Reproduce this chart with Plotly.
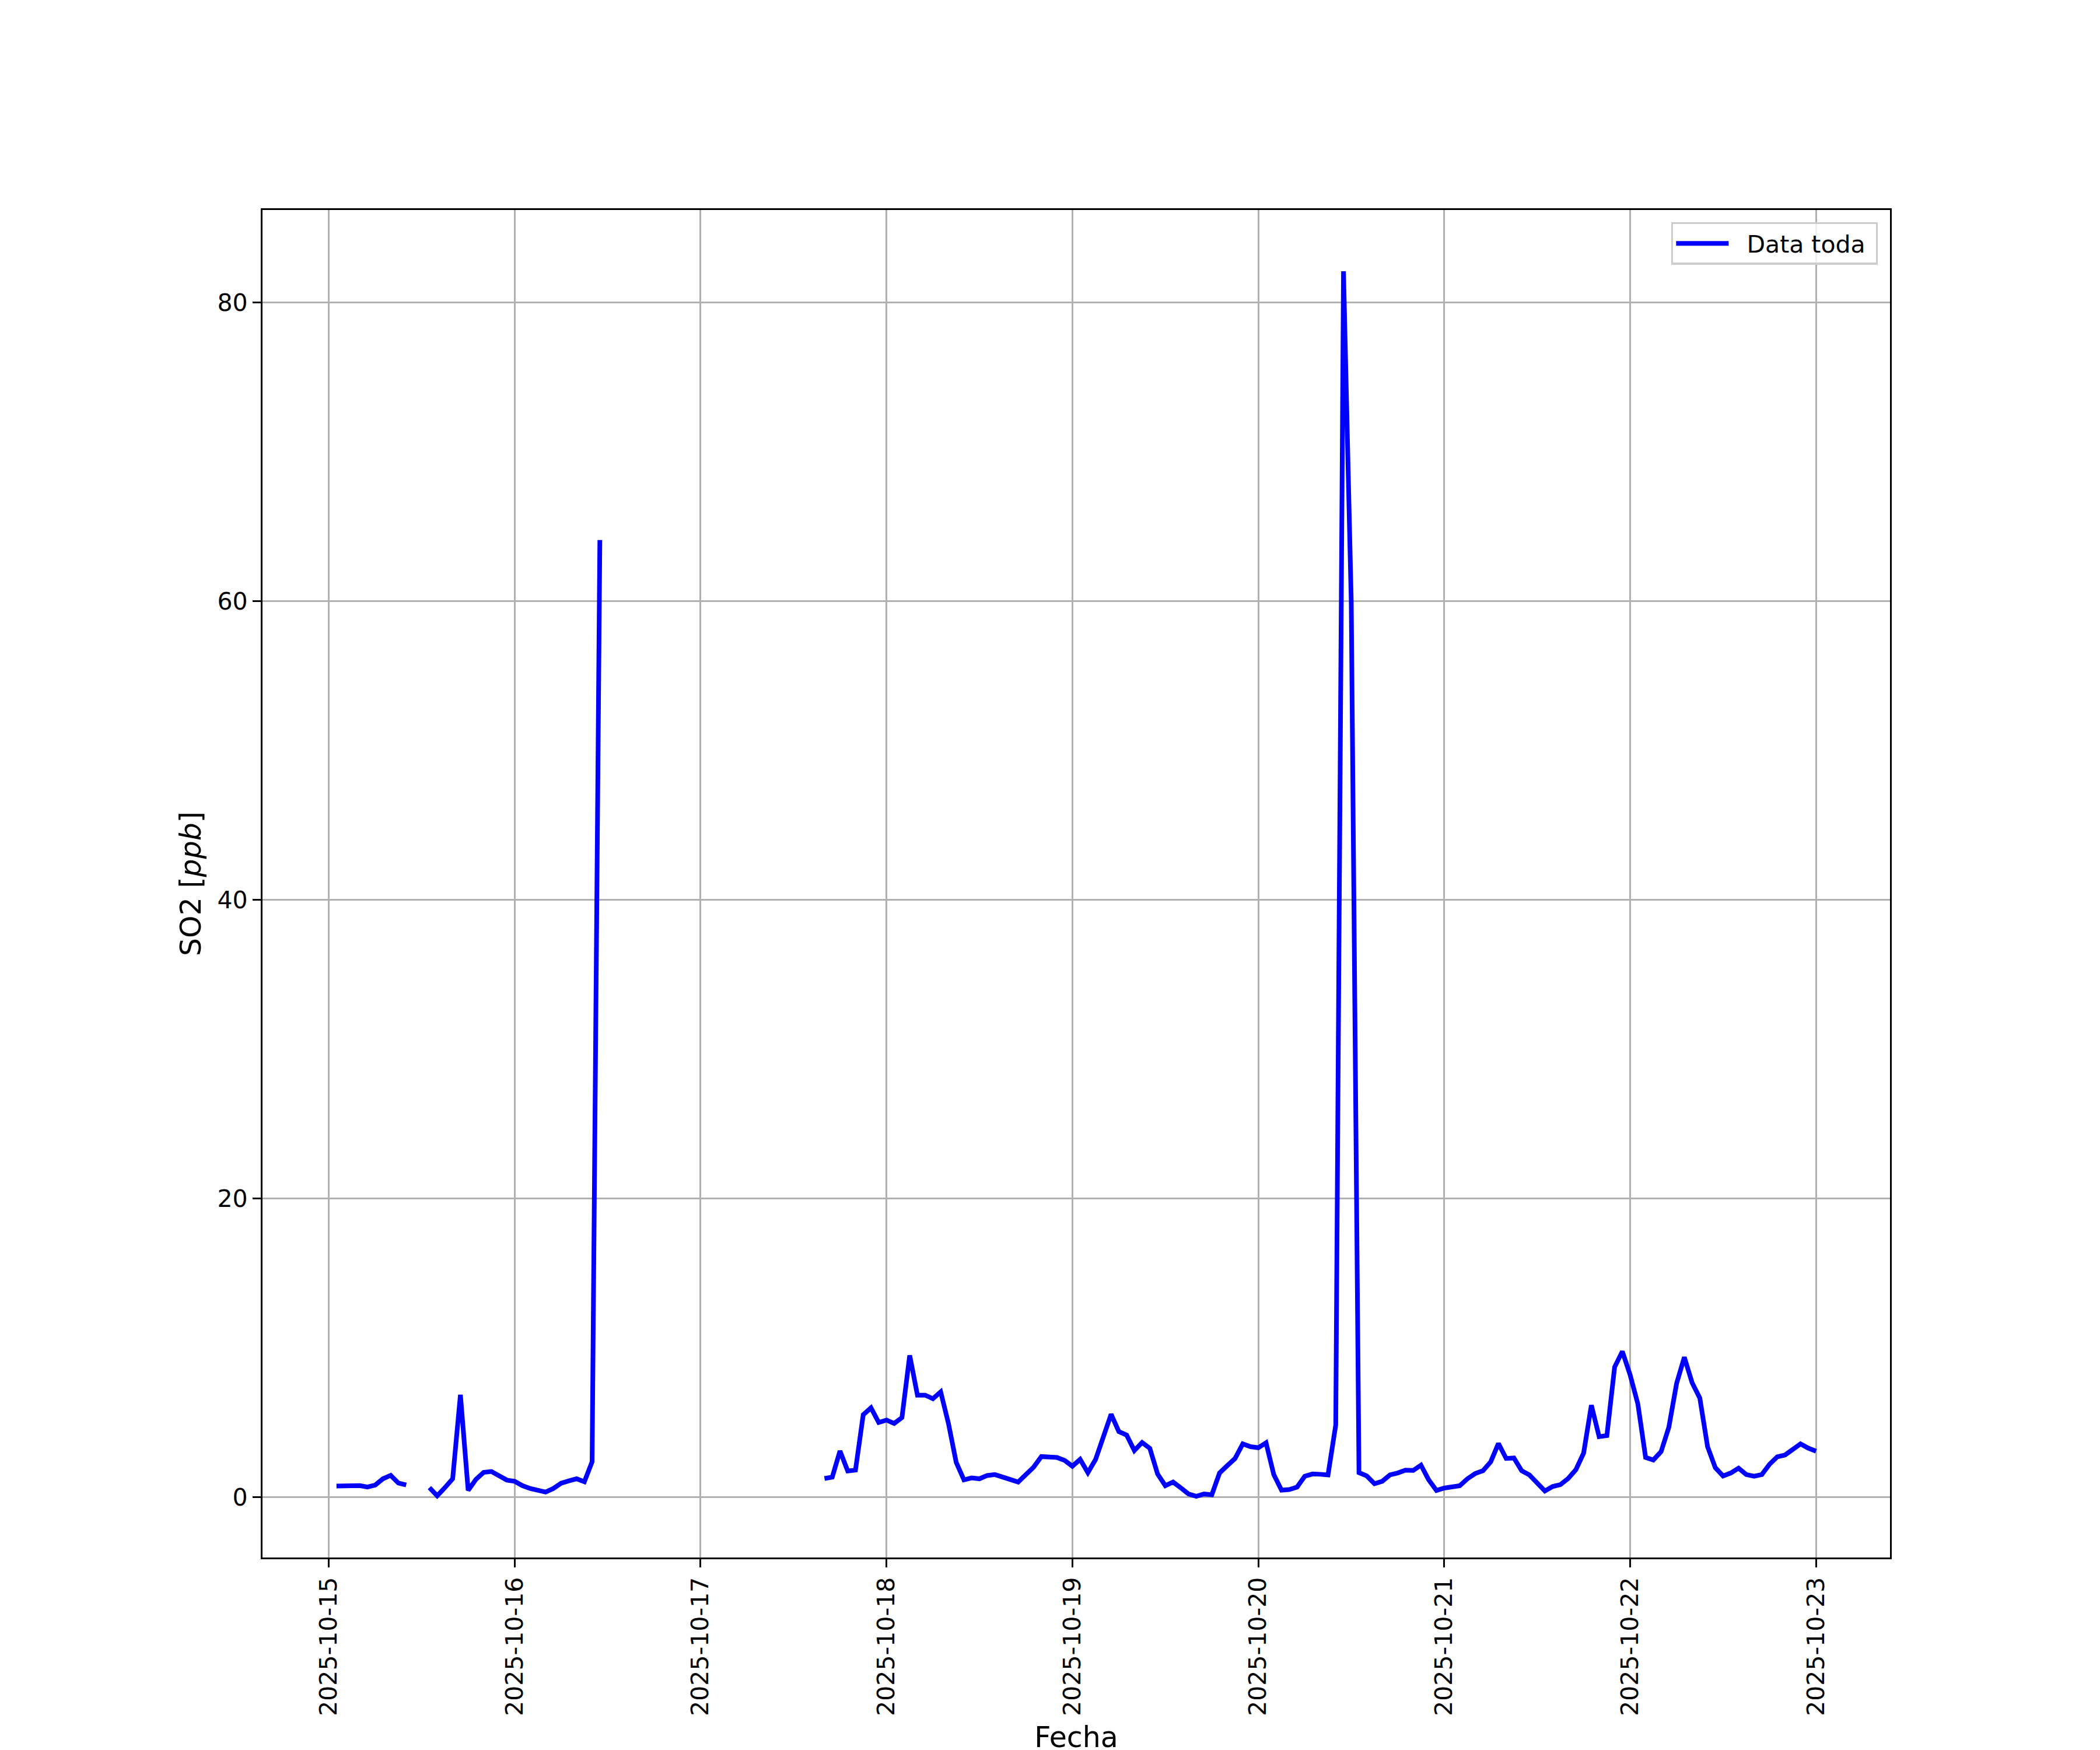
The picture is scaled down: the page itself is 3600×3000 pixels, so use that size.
import plotly.graph_objects as go
import pandas as pd

# Hourly SO2 readings in ppb, one list per day (None = missing hour)
# 15 Oct starts at 01:00, every other day starts at 00:00
so2_oct15 = [0.75, 0.74, 0.75, 0.78, 0.69, 0.82, 1.24, 1.47, 0.95, 0.83, None, None,
             0.65, 0.10, 0.65, 1.24, 6.86, 0.46, 1.20, 1.67, 1.73, 1.41, 1.15]
so2_oct16 = [1.07, 0.78, 0.59, 0.43, 0.35, 0.59, 0.94, 1.10, 1.24, 1.04, 2.38, 64.1,
             None, None, None, None, None, None, None, None, None, None, None, None]
so2_oct17 = [None, None, None, None, None, None, None, None, None, None, None, None,
             None, None, None, None, 1.26, 1.35, 3.10, 1.76, 1.82, 5.53, 5.99, 5.01]
so2_oct18 = [5.17, 4.95, 5.34, 9.50, 6.84, 6.84, 6.60, 7.06, 4.95, 2.34, 1.17, 1.30,
             1.24, 1.46, 1.52, 1.35, 1.15, 1.02, 1.52, 2.02, 2.73, 2.73, 2.67, 2.47]
so2_oct19 = [2.08, 2.54, 1.65, 2.54, 3.97, 5.56, 4.40, 4.17, 3.13, 3.67, 3.28, 1.56,
             0.78, 1.02, 0.63, 0.22, 0.07, 0.22, 0.17, 1.63, 2.12, 2.60, 3.58, 3.39]
so2_oct20 = [3.32, 3.65, 1.52, 0.48, 0.52, 0.68, 1.41, 1.56, 1.54, 1.50, 4.84, 82.1,
             60.0, 1.65, 1.43, 0.91, 1.07, 1.50, 1.63, 1.82, 1.80, 2.15, 1.17, 0.46]
so2_oct21 = [0.62, 0.70, 0.77, 1.24, 1.59, 1.78, 2.37, 3.60, 2.60, 2.63, 1.78, 1.50,
             0.98, 0.42, 0.72, 0.85, 1.26, 1.85, 2.96, 6.17, 4.06, 4.13, 8.72, 9.77]
so2_oct22 = [8.20, 6.25, 2.67, 2.50, 3.06, 4.69, 7.62, 9.38, 7.68, 6.64, 3.39, 1.98,
             1.43, 1.63, 1.95, 1.52, 1.41, 1.52, 2.21, 2.71, 2.83, 3.19, 3.58, 3.29]
so2_oct23 = [3.09]

so2 = (so2_oct15 + so2_oct16 + so2_oct17 + so2_oct18 + so2_oct19
       + so2_oct20 + so2_oct21 + so2_oct22 + so2_oct23)
fechas = pd.date_range('2025-10-15 01:00', periods=len(so2), freq='h')

# matplotlib-like 5% autoscale margins
x_pad = (fechas[-1] - fechas[0]) * 0.05
valid = [v for v in so2 if v is not None]
y_pad = (max(valid) - min(valid)) * 0.05

FONT = 'DejaVu Sans'

fig = go.Figure()

fig.add_trace(go.Scatter(
    x=fechas,
    y=so2,
    mode='lines',
    name='\u00a0\u00a0Data toda\u00a0',
    line=dict(color='#0000ff', width=8),
    connectgaps=False,
    hovertemplate='%{x|%Y-%m-%d %H:%M}<br>SO2: %{y:.2f} ppb<extra></extra>'
))

axis_common = dict(
    showline=True, linecolor='black', linewidth=3.3, mirror=True,
    ticks='outside', ticklen=14, tickwidth=3.3, tickcolor='black',
    showgrid=True, gridcolor='#b0b0b0', gridwidth=3.3,
    zeroline=False, automargin=False,
    tickfont=dict(family=FONT, size=41, color='black'),
)

fig.update_layout(
    width=3600,
    height=3000,
    paper_bgcolor='white',
    plot_bgcolor='white',
    # page body has an 8px default margin, so pull the plot up/left by that
    margin=dict(l=442, r=368, t=352, b=338),
    font=dict(family=FONT, color='black'),
    xaxis=dict(
        **axis_common,
        type='date',
        range=[fechas[0] - x_pad, fechas[-1] + x_pad],
        tick0='2025-10-15',
        dtick=86400000,
        tickformat='%Y-%m-%d',
        tickangle=-90,
        title=dict(text='Fecha', font=dict(family=FONT, size=49), standoff=20),
    ),
    yaxis=dict(
        **axis_common,
        range=[min(valid) - y_pad, max(valid) + y_pad],
        tick0=0,
        dtick=20,
        title=dict(text='SO2 [<i>ppb</i>]', font=dict(family=FONT, size=49), standoff=13),
    ),
    showlegend=True,
    legend=dict(
        x=0.9925, y=0.991, xanchor='right', yanchor='top',
        bgcolor='rgba(255,255,255,0.8)',
        bordercolor='#cccccc', borderwidth=3.3,
        font=dict(family=FONT, size=41, color='black'),
        itemwidth=90,
    ),
)

fig.write_html("out.html")
